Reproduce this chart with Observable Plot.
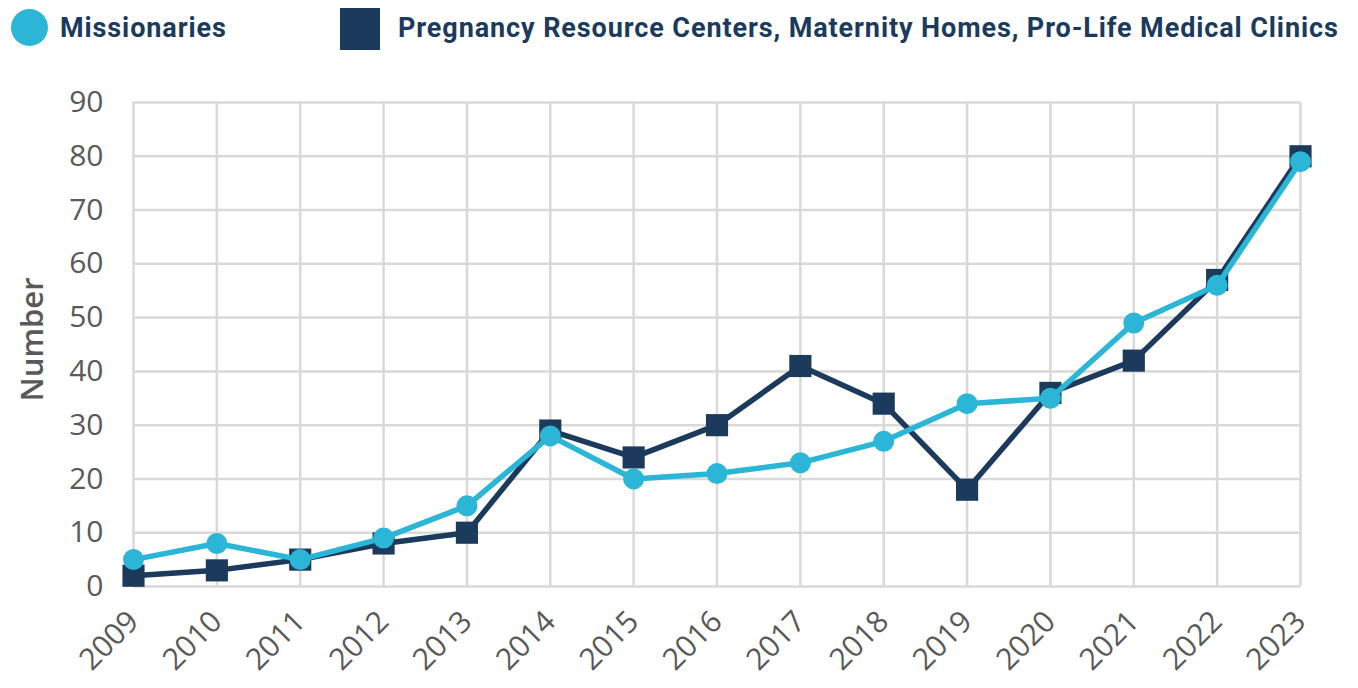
<!DOCTYPE html>
<html>
<head>
<meta charset="utf-8">
<script src="https://cdn.jsdelivr.net/npm/d3@7"></script>
<script src="https://cdn.jsdelivr.net/npm/@observablehq/plot@0.6"></script>
<style>
  body { margin: 0; background: #fff; }
  #legend { position: relative; height: 60px; width: 1358px; font-family: Roboto, "Noto Sans", sans-serif; font-weight: 700; color: #1b3a5c; font-size: 27px; }
  #legend .sw { position: absolute; }
  #legend .lab { position: absolute; top: 12px; white-space: nowrap; letter-spacing: 0.9px; }
</style>
</head>
<body>
<div id="legend"></div>
<div id="chart"></div>
<script>
const years = [2009, 2010, 2011, 2012, 2013, 2014, 2015, 2016, 2017, 2018, 2019, 2020, 2021, 2022, 2023];
const missionaries = [5, 8, 5, 9, 15, 28, 20, 21, 23, 27, 34, 35, 49, 56, 79];
const prc = [2, 3, 5, 8, 10, 29, 24, 30, 41, 34, 18, 36, 42, 57, 80];
const seriesNames = ["Missionaries", "Pregnancy Resource Centers, Maternity Homes, Pro-Life Medical Clinics"];
const seriesColors = ["#2bb5d6", "#1b3a5c"];
const yTicks = [0, 10, 20, 30, 40, 50, 60, 70, 80, 90];

const missData = years.map((y, i) => ({year: y, value: missionaries[i]}));
const prcData = years.map((y, i) => ({year: y, value: prc[i]}));

// legend
const legend = document.getElementById("legend");
legend.innerHTML = `
  <div class="sw" style="left:11px;top:9px;width:37px;height:37px;border-radius:50%;background:${seriesColors[0]}"></div>
  <div class="lab" style="left:60px">${seriesNames[0]}</div>
  <div class="sw" style="left:340px;top:8px;width:40px;height:42px;background:${seriesColors[1]}"></div>
  <div class="lab" style="left:398px">${seriesNames[1]}</div>
`;

const chart = Plot.plot({
  width: 1358,
  height: 628,
  marginLeft: 133,
  marginRight: 58,
  marginTop: 42,
  marginBottom: 102,
  style: { fontFamily: "'Open Sans', sans-serif", color: "#595959", background: "#fff" },
  x: { domain: [2009, 2023] },
  y: { domain: [0, 90] },
  marks: [
    Plot.gridX(years, { stroke: "#d9d9d9", strokeOpacity: 1, strokeWidth: 2.5 }),
    Plot.gridY(yTicks, { stroke: "#d9d9d9", strokeOpacity: 1, strokeWidth: 2.5 }),
    Plot.axisY(yTicks, { tickSize: 0, tickPadding: 30, fontSize: 30, fill: "#595959", label: null }),
    Plot.axisX(years, { tickSize: 0, tickPadding: 30, tickRotate: -45, fontSize: 30, fill: "#595959", tickFormat: d => String(d), label: null }),
    Plot.text(["Number"], { frameAnchor: "left", dx: -100, dy: 57, rotate: -90, fontSize: 31, fill: "#595959", fontWeight: 600 }),
    Plot.line(prcData, { x: "year", y: "value", stroke: seriesColors[1], strokeWidth: 5.5 }),
    Plot.dot(prcData, { x: "year", y: "value", symbol: "square", r: 12.5, fill: seriesColors[1] }),
    Plot.line(missData, { x: "year", y: "value", stroke: seriesColors[0], strokeWidth: 5.5 }),
    Plot.dot(missData, { x: "year", y: "value", symbol: "circle", r: 10.5, fill: seriesColors[0] })
  ]
});
document.getElementById("chart").appendChild(chart);
</script>
</body>
</html>
